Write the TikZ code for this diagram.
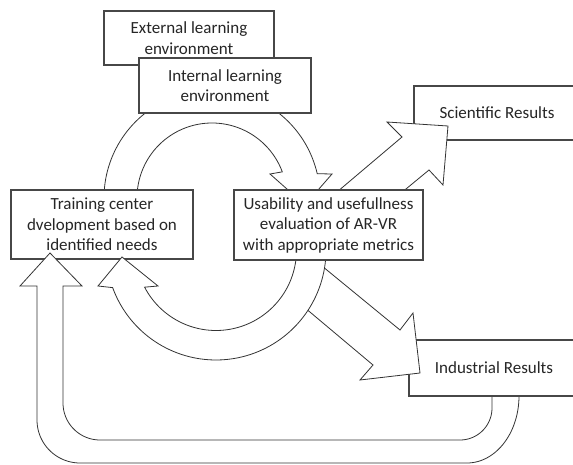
\documentclass[tikz,border=0pt]{standalone}
\usepackage{fontspec}
\setmainfont{Carlito}
\begin{document}
\begin{tikzpicture}[x=1pt,y=-1pt,
  box/.style={draw=black!72, line width=1.3pt, fill=white, inner sep=0pt, align=center,
    text=black!85, font=\fontsize{17}{20.5}\selectfont},
  blk/.style={draw=black!80, line width=0.8pt, fill=white, line join=miter}]
\useasboundingbox (0,0) rectangle (573,465);

% upper circular arrow (training -> usability)
\draw[blk] plot[domain=175:347,samples=80] ({212+108*cos(\x)},{198+108*sin(\x)})
  -- (332,174) -- (305,205) -- (270,174)
  -- plot[domain=339.6:175,samples=80] ({212+75*cos(\x)},{198+75*sin(\x)}) -- cycle;

\node[box, minimum width=182pt, minimum height=69pt] (train) at (102,224.5)
  {Training center\\dvelopment based on\\identified needs};

% feedback arrow (industrial -> training)
\draw[blk] (492,380) -- (492,408)
  -- plot[domain=0:90,samples=30] ({460+32*cos(\x)},{408+32*sin(\x)})
  -- (100,440)
  -- plot[domain=90:180,samples=30] ({100+37*cos(\x)},{403+37*sin(\x)})
  -- (63,286) -- (82,286) -- (50,253) -- (20,286) -- (37,286) -- (37,420)
  -- plot[domain=180:90,samples=30] ({80+43*cos(\x)},{420+43*sin(\x)})
  -- (467,463)
  -- plot[domain=90:0,samples=30] ({467+52*cos(\x)},{396+67*sin(\x)})
  -- (519,380) -- cycle;

\node[box, minimum width=166pt, minimum height=54pt] (sci) at (497,113) {Scientific Results};
\node[box, minimum width=170pt, minimum height=56pt] (ind) at (494,368) {Industrial Results};

% arrows to results
\draw[blk] (324,203) -- (402,137) -- (387,122) -- (448,126) -- (443,185) -- (429,170) -- (389,203) -- cycle;
\draw[blk] (311,257) -- (400,330) -- (413,313) -- (420,373) -- (360,380) -- (373,365) -- (298,302) -- cycle;

% lower circular arrow (usability -> training)
\draw[blk] plot[domain=-10:160,samples=80] ({216+110*cos(\x)},{250+110*sin(\x)})
  -- (98,286) -- (122,257) -- (158,286)
  -- plot[domain=152.5:-10,samples=80] ({216+80.5*cos(\x)},{250+80.5*sin(\x)}) -- cycle;

\node[box, minimum width=189pt, minimum height=70pt] (usab) at (328.5,225)
  {Usability and usefullness\\evaluation of AR-VR\\with appropriate metrics};

\node[box, minimum width=170pt, minimum height=54pt] (ext) at (189,38) {External learning\\environment};
\node[box, minimum width=172pt, minimum height=55pt] (int) at (225,85.5) {Internal learning\\environment};
\end{tikzpicture}
\end{document}
